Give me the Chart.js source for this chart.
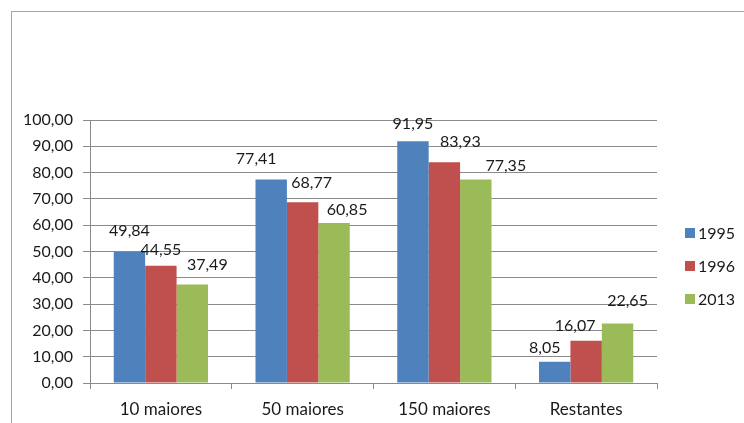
<!DOCTYPE html>
<html>
<head>
<meta charset="utf-8">
<script src="https://cdn.jsdelivr.net/npm/chart.js@4.4.0/dist/chart.umd.min.js"></script>
<style>
  body { margin: 0; background: #fff; overflow: hidden; }
  #wrap { position: relative; width: 744px; height: 423px; }
  #frame { position: absolute; left: 11px; top: 11px; width: 900px; height: 600px;
           border-top: 1px solid #a6a6a6; border-left: 1px solid #a6a6a6; }
  #legend { position: absolute; left: 685px; top: 225px; font: 16px Lato, sans-serif; color: #1a1a1a; }
  #legend div { height: 33px; line-height: 16px; display: flex; align-items: flex-start; }
  #legend span.box { display: inline-block; width: 10px; height: 10px; margin: 3px 3px 0 0; }
</style>
</head>
<body>
<div id="wrap">
  <div id="frame"></div>
  <canvas id="chart" width="744" height="423"></canvas>
  <div id="legend"></div>
</div>
<script>
// chart data
const categories = ['10 maiores', '50 maiores', '150 maiores', 'Restantes'];
const years = ['1995', '1996', '2013'];
const values1995 = [49.84, 77.41, 91.95, 8.05];
const values1996 = [44.55, 68.77, 83.93, 16.07];
const values2013 = [37.49, 60.85, 77.35, 22.65];
const colors = ['#4F81BD', '#C0504D', '#9BBB59'];

// label nudges (px), labels in the original were placed by hand
const labelDx = [[0, -15, 0, -10], [0, 9, 16, -11], [15, 13, 30, 10]];
const labelDy = [[21, 21, 17, 14], [16, 19, 20, 15], [20, 13, 14, 23]];

const fmt = v => v.toFixed(2).replace('.', ',');
const font = 'Lato, sans-serif';

// draws the value above each bar
const valueLabels = {
    id: 'valueLabels',
    afterDatasetsDraw(chart) {
        const ctx = chart.ctx;
        ctx.save();
        ctx.font = '16px ' + font;
        ctx.fillStyle = '#1a1a1a';
        ctx.textAlign = 'center';
        ctx.textBaseline = 'middle';
        chart.data.datasets.forEach((ds, i) => {
            chart.getDatasetMeta(i).data.forEach((bar, j) => {
                ctx.fillText(fmt(ds.data[j]), bar.x + labelDx[i][j], bar.y - labelDy[i][j]);
            });
        });
        ctx.restore();
    }
};

// html legend built from the chart's own legend items
const htmlLegend = {
    id: 'htmlLegend',
    afterUpdate(chart) {
        const box = document.getElementById('legend');
        box.innerHTML = '';
        chart.options.plugins.legend.labels.generateLabels(chart).forEach(item => {
            const row = document.createElement('div');
            const sw = document.createElement('span');
            sw.className = 'box';
            sw.style.background = item.fillStyle;
            row.appendChild(sw);
            row.appendChild(document.createTextNode(item.text));
            box.appendChild(row);
        });
    }
};

new Chart(document.getElementById('chart'), {
    type: 'bar',
    data: {
        labels: categories,
        datasets: [values1995, values1996, values2013].map((d, i) => ({
            label: years[i],
            data: d,
            backgroundColor: colors[i],
            borderWidth: 0,
            categoryPercentage: 0.665,
            barPercentage: 1
        }))
    },
    options: {
        responsive: false,
        devicePixelRatio: 1,
        animation: false,
        layout: { padding: { top: 120, left: 11, right: 87, bottom: 0 } },
        plugins: {
            legend: { display: false },
            tooltip: { enabled: false }
        },
        scales: {
            x: {
                afterFit: s => { s.height = 40; },
                grid: { offset: true, drawOnChartArea: false, color: '#8a8a8a', tickLength: 6 },
                border: { color: '#8a8a8a' },
                ticks: { color: '#1a1a1a', font: { family: font, size: 17 }, padding: 10 }
            },
            y: {
                min: 0,
                max: 100,
                afterFit: s => { s.width = 79; },
                grid: { color: '#8a8a8a', tickLength: 7 },
                border: { color: '#8a8a8a' },
                ticks: { stepSize: 10, color: '#1a1a1a', font: { family: font, size: 16 }, padding: 10,
                         callback: v => fmt(v) }
            }
        }
    },
    plugins: [valueLabels, htmlLegend]
});
</script>
</body>
</html>
